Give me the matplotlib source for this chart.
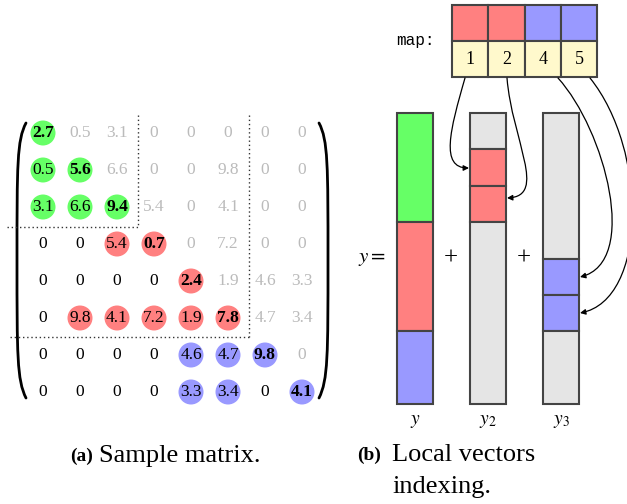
import numpy as np
import matplotlib.pyplot as plt
from matplotlib.patches import Circle, Rectangle, FancyArrowPatch
from matplotlib.path import Path

# matrix entries
values = [
    ["2.7", "0.5", "3.1", "0", "0", "0", "0", "0"],
    ["0.5", "5.6", "6.6", "0", "0", "9.8", "0", "0"],
    ["3.1", "6.6", "9.4", "5.4", "0", "4.1", "0", "0"],
    ["0", "0", "5.4", "0.7", "0", "7.2", "0", "0"],
    ["0", "0", "0", "0", "2.4", "1.9", "4.6", "3.3"],
    ["0", "9.8", "4.1", "7.2", "1.9", "7.8", "4.7", "3.4"],
    ["0", "0", "0", "0", "4.6", "4.7", "9.8", "0"],
    ["0", "0", "0", "0", "3.3", "3.4", "0", "4.1"],
]
# row blocks (process owning each row)
row_block = [0, 0, 0, 1, 1, 1, 2, 2]
block_colors = ["#66ff66", "#ff8080", "#9999ff"]

# local vectors as (first row, row count, colour key); None = ghost part
y_segments = [(0, 3, 0), (3, 3, 1), (6, 2, 2)]
y2_segments = [(0, 1, None), (1, 1, 1), (2, 1, 1), (3, 5, None)]
y3_segments = [(0, 4, None), (4, 1, 2), (5, 1, 2), (6, 2, None)]
map_idx = [1, 2, 4, 5]
map_block = [1, 1, 2, 2]

serif = ["Liberation Serif", "DejaVu Serif"]
edge = "#444444"
grey_fill = "#e5e5e5"

fig = plt.figure(figsize=(6.27, 5.04), dpi=100)
ax = fig.add_axes([0, 0, 1, 1])
ax.set_xlim(0, 627)
ax.set_ylim(504, 0)
ax.axis("off")

# ---- (a) the matrix ----
x0, y0, step = 43, 133, 37
for i, row in enumerate(values):
    for j, v in enumerate(row):
        cx, cy = x0 + j * step, y0 + i * step
        stored = j <= i and (v != "0" or i == j)
        if stored:
            ax.add_patch(Circle((cx, cy), 12.5, color=block_colors[row_block[i]],
                                lw=0, zorder=2))
        color = "#bbbbbb" if j > i else "black"
        weight = "bold" if i == j else "normal"
        ax.text(cx, cy, v, ha="center", va="center", fontsize=12.5,
                family=serif, color=color, weight=weight, zorder=3)

# block separators
dot = dict(color="#333333", lw=1, ls=(0, (1, 2)))
ax.plot([138, 138], [115, 227], **dot)
ax.plot([7, 138], [227, 227], **dot)
ax.plot([249, 249], [115, 337], **dot)
ax.plot([10, 249], [337, 337], **dot)

# parentheses
lp = Path([(26, 123), (17, 140), (17, 165), (17, 260),
           (17, 355), (17, 380), (26, 398)],
          [Path.MOVETO, Path.CURVE4, Path.CURVE4, Path.CURVE4,
           Path.CURVE4, Path.CURVE4, Path.CURVE4])
rp = Path([(319, 123), (328, 140), (328, 165), (328, 260),
           (328, 355), (328, 380), (319, 398)], lp.codes)
for p in (lp, rp):
    ax.add_patch(FancyArrowPatch(path=p, arrowstyle="-", lw=2, color="black"))

ax.text(70, 456, "(a)", fontsize=14, family=serif, weight="bold",
        ha="left", va="center")
ax.text(99, 456, "Sample matrix.", fontsize=19, family=serif,
        ha="left", va="center")

# ---- (b) map and local vectors ----
mx, mw, mh, my = 452, 36.3, 36, 5
ax.text(415, 40, "map:", family="Liberation Mono", fontsize=11.5,
        ha="center", va="center")
for k, (idx, b) in enumerate(zip(map_idx, map_block)):
    ax.add_patch(Rectangle((mx + k * mw, my), mw, mh, fc=block_colors[b],
                           ec=edge, lw=1.5))
    ax.add_patch(Rectangle((mx + k * mw, my + mh), mw, mh, fc="#fff9cc",
                           ec=edge, lw=1.5))
    ax.text(mx + (k + 0.5) * mw, my + 1.5 * mh, str(idx), family=serif,
            fontsize=13, ha="center", va="center")

vt, ch, vw = 113, 36.4, 36
cols_x = [397, 470, 543]


def draw_vector(x, segments):
    for start, n, key in segments:
        fc = grey_fill if key is None else block_colors[key]
        ax.add_patch(Rectangle((x, vt + start * ch), vw, n * ch, fc=fc,
                               ec=edge, lw=1.5, zorder=2))


for x, segs in zip(cols_x, [y_segments, y2_segments, y3_segments]):
    draw_vector(x, segs)

ax.text(372, 258, "$y=$", fontsize=15, ha="center", va="center",
        math_fontfamily="stix")
ax.text(451, 259, "+", fontsize=18, family=serif, ha="center", va="center")
ax.text(524, 259, "+", fontsize=18, family=serif, ha="center", va="center")
for x, lab in zip(cols_x, ["$y$", "$y_2$", "$y_3$"]):
    ax.text(x + vw / 2, 420, lab, fontsize=14, ha="center", va="center",
            math_fontfamily="stix")

# arrows from map entries to local vector slots
curves = [
    [(465, 78), (450, 130), (440, 168), (469, 168)],
    [(507, 78), (512, 140), (548, 196), (507, 198)],
    [(558, 78), (605, 130), (640, 262), (580, 277)],
    [(590, 78), (648, 150), (648, 300), (580, 313)],
]
codes = [Path.MOVETO, Path.CURVE4, Path.CURVE4, Path.CURVE4]
for c in curves:
    ax.add_patch(FancyArrowPatch(path=Path(c, codes), arrowstyle="-|>",
                                 mutation_scale=8, lw=0.9, color="black",
                                 zorder=3))

ax.text(357, 455, "(b)", fontsize=14, family=serif, weight="bold",
        ha="left", va="center")
ax.text(392, 455, "Local vectors", fontsize=19, family=serif,
        ha="left", va="center")
ax.text(392, 487, "indexing.", fontsize=19, family=serif,
        ha="left", va="center")

fig.savefig("out.png", dpi=100)
